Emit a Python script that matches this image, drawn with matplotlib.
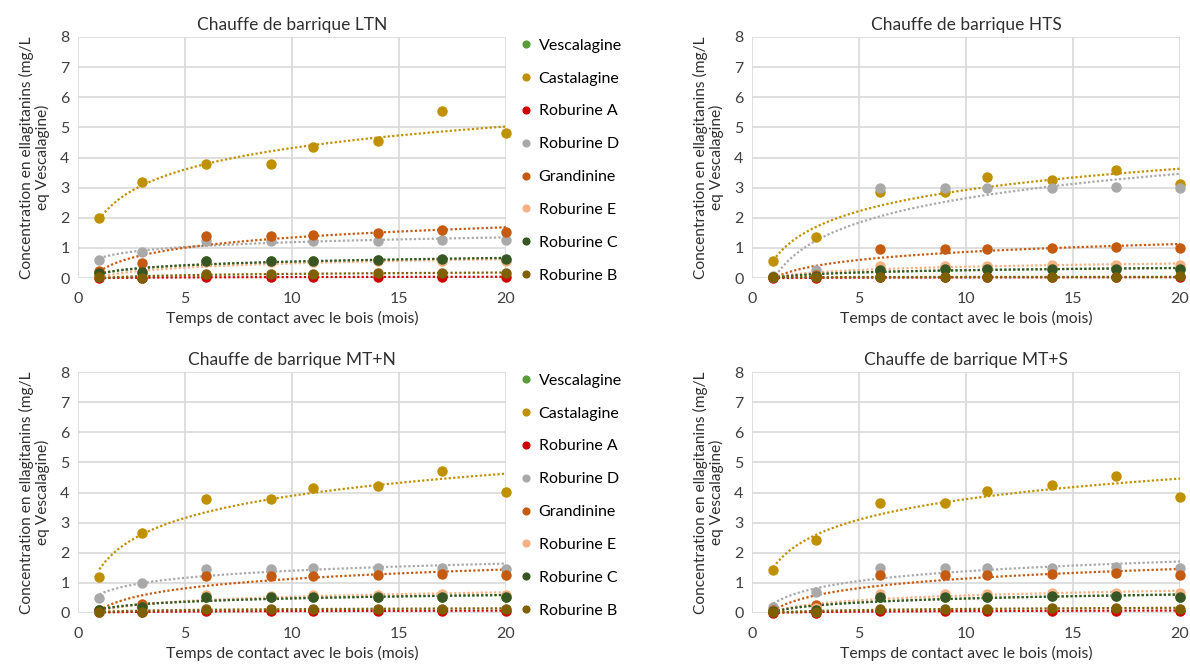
import numpy as np
import matplotlib
matplotlib.use("Agg")
import matplotlib.pyplot as plt

plt.rcParams['font.family'] = ['Lato', 'DejaVu Sans']

# months of contact with wood
months = [1, 3, 6, 9, 11, 14, 17, 20]

compounds = ["Vescalagine", "Castalagine", "Roburine A", "Roburine D",
             "Grandinine", "Roburine E", "Roburine C", "Roburine B"]
colors = ["#5B9B3C", "#BF9000", "#D00000", "#A9A9A9",
          "#C55A11", "#F4B183", "#375623", "#7F6000"]

# Chauffe LTN
ltn_vescalagine = [0.16, 0.18, 0.57, 0.57, 0.57, 0.59, 0.61, 0.61]
ltn_castalagine = [1.99, 3.19, 3.77, 3.77, 4.34, 4.56, 5.56, 4.81]
ltn_roburine_a = [0.00, 0.00, 0.03, 0.03, 0.03, 0.04, 0.04, 0.04]
ltn_roburine_d = [0.61, 0.87, 1.22, 1.22, 1.24, 1.24, 1.27, 1.27]
ltn_grandinine = [0.24, 0.49, 1.39, 1.39, 1.42, 1.50, 1.59, 1.53]
ltn_roburine_e = [0.05, 0.08, 0.52, 0.52, 0.53, 0.55, 0.57, 0.57]
ltn_roburine_c = [0.17, 0.19, 0.58, 0.58, 0.58, 0.60, 0.62, 0.62]
ltn_roburine_b = [0.02, 0.00, 0.13, 0.13, 0.13, 0.17, 0.18, 0.18]

# Chauffe HTS
hts_vescalagine = [0.02, 0.05, 0.28, 0.29, 0.29, 0.29, 0.30, 0.29]
hts_castalagine = [0.55, 1.35, 2.85, 2.85, 3.34, 3.24, 3.58, 3.12]
hts_roburine_a = [0.00, 0.00, 0.02, 0.02, 0.02, 0.02, 0.02, 0.03]
hts_roburine_d = [0.05, 0.25, 3.00, 3.00, 3.00, 3.00, 3.01, 3.00]
hts_grandinine = [0.03, 0.10, 0.95, 0.95, 0.95, 0.98, 1.04, 0.98]
hts_roburine_e = [0.03, 0.08, 0.40, 0.40, 0.40, 0.43, 0.43, 0.44]
hts_roburine_c = [0.02, 0.05, 0.28, 0.29, 0.29, 0.29, 0.30, 0.29]
hts_roburine_b = [0.03, 0.03, 0.03, 0.03, 0.03, 0.03, 0.04, 0.05]

# Chauffe MT+N
mtn_vescalagine = [0.11, 0.20, 0.52, 0.52, 0.52, 0.54, 0.54, 0.54]
mtn_castalagine = [1.21, 2.66, 3.77, 3.77, 4.16, 4.22, 4.70, 4.02]
mtn_roburine_a = [0.02, 0.02, 0.07, 0.07, 0.07, 0.07, 0.07, 0.07]
mtn_roburine_d = [0.49, 0.99, 1.47, 1.47, 1.50, 1.50, 1.50, 1.47]
mtn_grandinine = [0.09, 0.31, 1.23, 1.23, 1.23, 1.27, 1.31, 1.27]
mtn_roburine_e = [0.05, 0.15, 0.60, 0.58, 0.60, 0.60, 0.62, 0.60]
mtn_roburine_c = [0.11, 0.20, 0.52, 0.52, 0.52, 0.54, 0.54, 0.54]
mtn_roburine_b = [0.04, 0.04, 0.14, 0.14, 0.14, 0.14, 0.14, 0.14]

# Chauffe MT+S
mts_vescalagine = [0.05, 0.11, 0.53, 0.53, 0.53, 0.55, 0.55, 0.53]
mts_castalagine = [1.43, 2.42, 3.64, 3.64, 4.06, 4.24, 4.54, 3.85]
mts_roburine_a = [0.01, 0.01, 0.07, 0.07, 0.07, 0.07, 0.08, 0.07]
mts_roburine_d = [0.20, 0.70, 1.50, 1.50, 1.50, 1.50, 1.53, 1.50]
mts_grandinine = [0.09, 0.28, 1.25, 1.25, 1.25, 1.29, 1.33, 1.27]
mts_roburine_e = [0.05, 0.15, 0.64, 0.64, 0.64, 0.65, 0.66, 0.65]
mts_roburine_c = [0.05, 0.11, 0.53, 0.53, 0.53, 0.55, 0.55, 0.53]
mts_roburine_b = [0.02, 0.02, 0.14, 0.14, 0.14, 0.17, 0.17, 0.14]

panels = [
    ("Chauffe de barrique LTN", [ltn_vescalagine, ltn_castalagine, ltn_roburine_a, ltn_roburine_d,
                                 ltn_grandinine, ltn_roburine_e, ltn_roburine_c, ltn_roburine_b]),
    ("Chauffe de barrique HTS", [hts_vescalagine, hts_castalagine, hts_roburine_a, hts_roburine_d,
                                 hts_grandinine, hts_roburine_e, hts_roburine_c, hts_roburine_b]),
    ("Chauffe de barrique MT+N", [mtn_vescalagine, mtn_castalagine, mtn_roburine_a, mtn_roburine_d,
                                  mtn_grandinine, mtn_roburine_e, mtn_roburine_c, mtn_roburine_b]),
    ("Chauffe de barrique MT+S", [mts_vescalagine, mts_castalagine, mts_roburine_a, mts_roburine_d,
                                  mts_grandinine, mts_roburine_e, mts_roburine_c, mts_roburine_b]),
]

W, H = 1190, 664
fig = plt.figure(figsize=(W / 100, H / 100), dpi=100)

# axes boxes in pixels: left, top, width, height
boxes = [(78, 37, 428, 241), (752, 37, 428, 241),
         (78, 372, 428, 241), (752, 372, 428, 241)]

t_fit = np.linspace(1, 20, 200)
for i, ((title, series), (l, t, w, h)) in enumerate(zip(panels, boxes)):
    ax = fig.add_axes([l / W, 1 - (t + h) / H, w / W, h / H])
    for name, vals, c in zip(compounds, series, colors):
        ax.plot(months, vals, 'o', color=c, markersize=6.5, label=name,
                clip_on=False, zorder=3)
        # logarithmic trend line, like Excel's
        a, b = np.polyfit(np.log(months), vals, 1)
        ax.plot(t_fit, a * np.log(t_fit) + b, color=c, linestyle=(0, (1, 1)),
                linewidth=1.6, zorder=2, clip_on=False)
    ax.set_xlim(0, 20)
    ax.set_ylim(0, 8)
    ax.set_xticks([0, 5, 10, 15, 20])
    ax.set_yticks(range(0, 9))
    ax.grid(True, color="#D9D9D9", linewidth=1.2)
    ax.set_axisbelow(True)
    for s in ax.spines.values():
        s.set_visible(False)
    ax.tick_params(length=0, labelsize=11.5, labelcolor="#404040", pad=6)
    ax.tick_params(axis='x', pad=10)
    ax.set_title(title, fontsize=12.5, color="#303030", pad=5)
    ax.set_xlabel("Temps de contact avec le bois (mois)", fontsize=11.3, color="#303030")
    ax.xaxis.set_label_coords(0.5, -0.138)
    ax.set_ylabel("Concentration en ellagitanins (mg/L\neq Vescalagine)",
                  fontsize=11.2, color="#303030", linespacing=1.05)
    ax.yaxis.set_label_coords(-0.066, 0.5)
    if i % 2 == 0:
        ax.legend(loc='upper left', bbox_to_anchor=(1.02, 1.02), frameon=False,
                  fontsize=11.5, labelspacing=1.17, handlelength=0.6,
                  handletextpad=0.5, markerscale=0.75, borderaxespad=0)

fig.savefig("out.png", dpi=100)
